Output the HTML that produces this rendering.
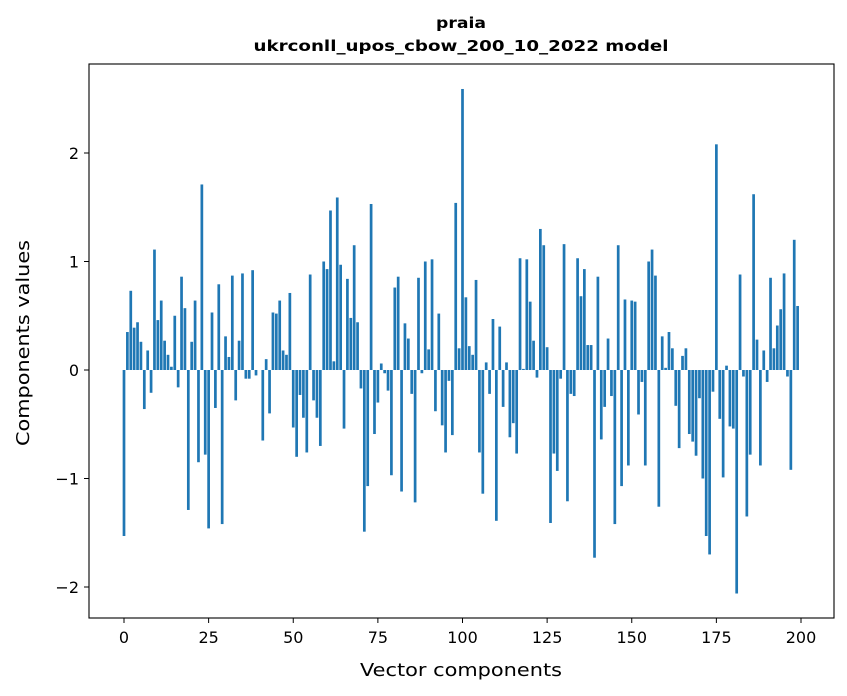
<!DOCTYPE html>
<html><head><meta charset="utf-8"><style>
html,body{margin:0;padding:0;background:#fff;}
svg{display:block;font-family:"DejaVu Sans","Liberation Sans",sans-serif;}
</style></head><body>
<svg id="chart" width="847" height="696" viewBox="0 0 847 696">
<rect width="847" height="696" fill="#fff"/>
<text x="461" y="28" text-anchor="middle" font-size="15" font-weight="bold" textLength="50" lengthAdjust="spacingAndGlyphs">praia</text>
<text x="461" y="51" text-anchor="middle" font-size="15" font-weight="bold" textLength="415" lengthAdjust="spacingAndGlyphs">ukrconll_upos_cbow_200_10_2022 model</text>
<g id="bars"></g>
<g id="xticks"></g>
<g id="yticks"></g>
<rect x="89" y="64" width="745" height="554" fill="none" stroke="#000" stroke-width="1.1"/>
<text x="461" y="676" text-anchor="middle" font-size="18" textLength="202" lengthAdjust="spacingAndGlyphs">Vector components</text>
<text x="0" y="0" transform="translate(29,343) rotate(-90)" text-anchor="middle" font-size="18" textLength="206" lengthAdjust="spacingAndGlyphs">Components values</text>
</svg>
<script>
const values = [-1.53,0.35,0.73,0.39,0.44,0.26,-0.36,0.18,-0.21,1.11,0.46,0.64,0.27,0.14,0.03,0.50,-0.16,0.86,0.57,-1.29,
0.26,0.64,-0.85,1.71,-0.78,-1.46,0.53,-0.35,0.79,-1.42,0.31,0.12,0.87,-0.28,0.27,0.89,-0.08,-0.08,0.92,-0.05,
0,-0.65,0.10,-0.40,0.53,0.52,0.64,0.18,0.14,0.71,-0.53,-0.80,-0.23,-0.44,-0.76,0.88,-0.28,-0.44,-0.70,1.00,
0.93,1.47,0.08,1.59,0.97,-0.54,0.84,0.48,1.15,0.44,-0.17,-1.49,-1.07,1.53,-0.59,-0.30,0.06,-0.03,-0.19,-0.97,
0.76,0.86,-1.12,0.43,0.29,-0.22,-1.22,0.85,-0.03,1.00,0.19,1.02,-0.38,0.52,-0.51,-0.76,-0.10,-0.60,1.54,0.20,
2.59,0.67,0.22,0.14,0.83,-0.76,-1.14,0.07,-0.22,0.47,-1.39,0.40,-0.34,0.07,-0.62,-0.49,-0.77,1.03,0.01,1.02,
0.63,0.27,-0.07,1.30,1.15,0.21,-1.41,-0.77,-0.93,-0.08,1.16,-1.21,-0.22,-0.24,1.03,0.68,0.93,0.23,0.23,-1.73,
0.86,-0.64,-0.34,0.29,-0.24,-1.42,1.15,-1.07,0.65,-0.88,0.64,0.63,-0.41,-0.11,-0.88,1.00,1.11,0.87,-1.26,0.31,
0.02,0.35,0.20,-0.33,-0.72,0.13,0.20,-0.59,-0.66,-0.79,-0.26,-1.00,-1.53,-1.70,-0.20,2.08,-0.45,-0.99,0.04,-0.52,
-0.54,-2.06,0.88,-0.06,-1.35,-0.78,1.62,0.28,-0.88,0.18,-0.11,0.85,0.20,0.41,0.56,0.89,-0.06,-0.92,1.20,0.59];
const xTicks = [0,25,50,75,100,125,150,175,200];
const yTicks = [-2,-1,0,1,2];
const yTickLabels = ["\u22122","\u22121","0","1","2"];
const NS="http://www.w3.org/2000/svg";
function xs(v){return 124 + v*(801-124)/200;}
function ys(v){return 370 - v*108.5;}
const bars=document.getElementById('bars');
values.forEach((v,i)=>{
  const r=document.createElementNS(NS,'rect');
  
  
  const w=0.8*(801-124)/200;
  r.setAttribute('x',xs(i)-w/2);
  r.setAttribute('width',w);
  r.setAttribute('y',Math.min(ys(v),ys(0)));
  r.setAttribute('height',Math.abs(ys(v)-ys(0)));
  r.setAttribute('fill','#1f77b4');
  bars.appendChild(r);
});
const xg=document.getElementById('xticks');
xTicks.forEach(t=>{
  const l=document.createElementNS(NS,'line');
  
  
  l.setAttribute('x1',xs(t));l.setAttribute('x2',xs(t));
  l.setAttribute('y1',618);l.setAttribute('y2',623);
  l.setAttribute('stroke','#000');
  xg.appendChild(l);
  const tx=document.createElementNS(NS,'text');
  
  
  tx.setAttribute('x',xs(t));tx.setAttribute('y',643);
  tx.setAttribute('text-anchor','middle');tx.setAttribute('font-size','16');
  tx.textContent=String(t);
  xg.appendChild(tx);
});
const yg=document.getElementById('yticks');
yTicks.forEach((t,k)=>{
  const l=document.createElementNS(NS,'line');
  
  
  l.setAttribute('x1',84);l.setAttribute('x2',89);
  l.setAttribute('y1',ys(t));l.setAttribute('y2',ys(t));
  l.setAttribute('stroke','#000');
  yg.appendChild(l);
  const tx=document.createElementNS(NS,'text');
  
  
  tx.setAttribute('x',79);tx.setAttribute('y',ys(t)+6);
  tx.setAttribute('text-anchor','end');tx.setAttribute('font-size','16');
  tx.textContent=yTickLabels[k];
  yg.appendChild(tx);
});
</script>
</body></html>
